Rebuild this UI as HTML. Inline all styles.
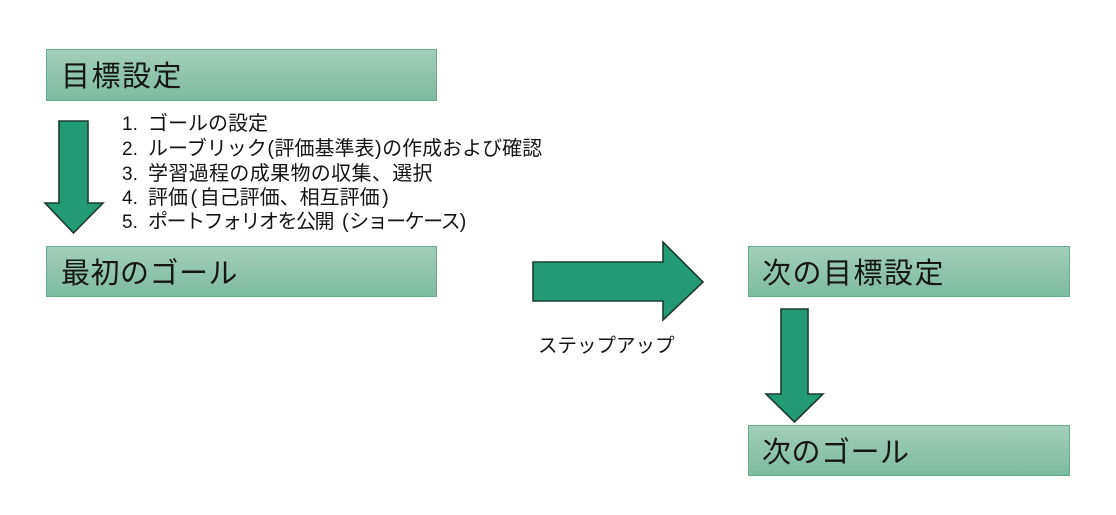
<!DOCTYPE html>
<html>
<head>
<meta charset="utf-8">
<style>
  html,body{margin:0;padding:0;background:#fff;}
  body{width:1116px;height:515px;position:relative;overflow:hidden;
       font-family:"Liberation Sans","Noto Sans CJK JP",sans-serif;color:#111;}
  .box{position:absolute;box-sizing:border-box;border:1.5px solid #6aa98c;
       background:linear-gradient(to bottom,#a2cfbb 0%,#8dc4ac 55%,#7cbba0 100%);}
  .title{position:absolute;font-size:29px;letter-spacing:1.5px;line-height:30px;white-space:nowrap;color:#161616;
       font-family:"Noto Sans CJK JP","Liberation Sans",sans-serif;}
  .list{position:absolute;left:122px;top:0;font-size:20px;white-space:nowrap;color:#141414;
       font-family:"Noto Sans CJK JP","Liberation Sans",sans-serif;}
  .list div{position:absolute;left:0;height:24px;line-height:24px;}
  .list span{line-height:24px;}
  .list span.n{display:inline-block;width:26px;font-family:"Liberation Sans",sans-serif;font-size:19px;letter-spacing:0;}
  .list span.p{font-family:"Liberation Sans",sans-serif;letter-spacing:0;padding:0 0.5px;}
  .lbl{position:absolute;font-size:19.5px;white-space:nowrap;line-height:24px;color:#141414;
       font-family:"Noto Sans CJK JP","Liberation Sans",sans-serif;}
  svg{position:absolute;left:0;top:0;}
</style>
</head>
<body>
<div class="box" style="left:46px;top:49px;width:391px;height:52px;"></div>
<div class="box" style="left:46px;top:246px;width:391px;height:51px;"></div>
<div class="box" style="left:748px;top:246px;width:322px;height:51px;"></div>
<div class="box" style="left:748px;top:425px;width:322px;height:51px;"></div>

<div class="title" style="left:61px;top:59px;">目標設定</div>
<div class="title" style="left:61px;top:256px;letter-spacing:0.5px;">最初のゴール</div>
<div class="title" style="left:762px;top:256px;">次の目標設定</div>
<div class="title" style="left:762px;top:435px;letter-spacing:0.5px;">次のゴール</div>

<div class="list">
<div style="top:110px;"><span class="n">1.</span>ゴールの設定</div>
<div style="top:135px;"><span class="n">2.</span>ルーブリック<span class="p">(</span>評価基準表<span class="p">)</span>の作成および確認</div>
<div style="top:160px;"><span class="n">3.</span><span style="letter-spacing:0.35px;">学習過程の成果物の収集、選択</span></div>
<div style="top:184px;"><span class="n">4.</span>評価<span class="p" style="padding:0 2.5px;">(</span>自己評価、相互評価<span class="p" style="padding:0 2.5px;">)</span></div>
<div style="top:208px;"><span class="n">5.</span><span style="letter-spacing:-1.5px;">ポートフォリオを公開</span><span class="p" style="padding-left:9px;">(</span><span style="letter-spacing:-1.5px;">ショーケース</span><span class="p">)</span></div>
</div>

<div class="lbl" style="left:538px;top:332px;">ステップアップ</div>

<svg width="1116" height="515" viewBox="0 0 1116 515">
  <g fill="#229a74" stroke="#1d3b30" stroke-width="1.6" stroke-linejoin="miter">
    <polygon points="59,121 88,121 88,203 103,203 73.5,233 45,203 59,203"/>
    <polygon points="533,262 663,262 663,242 703,282 663,320 663,301 533,301"/>
    <polygon points="781,309 808,309 808,394 823,394 794.5,422 766,394 781,394"/>
  </g>
</svg>
</body>
</html>
